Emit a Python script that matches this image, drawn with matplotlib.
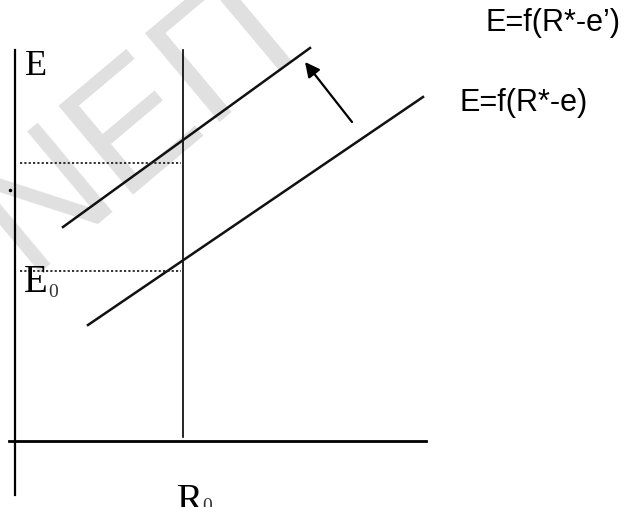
import matplotlib
matplotlib.use("Agg")
import matplotlib.pyplot as plt

# diagram positions in image pixels (x right, y down)
axis_y_x = [15, 15]
axis_y_y = [50, 495]
axis_x_x = [9, 426]
axis_x_y = [441, 441]
r0_x = [183, 183]
r0_y = [50, 437]

curve_new_x = [63, 310]      # E=f(R*-e')
curve_new_y = [227, 48]
curve_old_x = [88, 423]      # E=f(R*-e)
curve_old_y = [325, 97]

dot_upper_x = [20, 181]
dot_upper_y = [163, 163]
dot_e0_x = [20, 181]
dot_e0_y = [271, 271]

arrow_tail = (352, 122)
arrow_head = (305, 62)

label_new = "E=f(R*-e\u2019)"
label_old = "E=f(R*-e)"

fig = plt.figure(figsize=(6.27, 5.07), dpi=100)
ax = fig.add_axes([0, 0, 1, 1])
ax.set_xlim(0, 627)
ax.set_ylim(507, 0)
ax.axis("off")

# faint watermark
ax.text(135, 125, "\u039d\u0395\u03a0", fontsize=122, color="#e0e0e0",
        family="Liberation Sans", rotation=40, rotation_mode="anchor",
        ha="center", va="center", zorder=0)

ax.plot(axis_y_x, axis_y_y, color="black", lw=1.6)
ax.plot(axis_x_x, axis_x_y, color="black", lw=2.0)
ax.plot(r0_x, r0_y, color="black", lw=1.2)

ax.plot(curve_new_x, curve_new_y, color="#111111", lw=1.8)
ax.plot(curve_old_x, curve_old_y, color="#111111", lw=1.8)

ax.plot(dot_upper_x, dot_upper_y, color="#222222", lw=1.3, linestyle=(0, (1.2, 1.2)))
ax.plot(dot_e0_x, dot_e0_y, color="#222222", lw=1.3, linestyle=(0, (1.2, 1.2)))

ax.annotate("", xy=arrow_head, xytext=arrow_tail,
            arrowprops=dict(arrowstyle="-|>", color="black", lw=1.6,
                            mutation_scale=22, shrinkA=0, shrinkB=0))

ax.plot([10], [190], marker="o", markersize=1.5, color="black")

serif = "Liberation Serif"
ax.text(25, 75, "E", fontsize=26, family=serif, ha="left", va="baseline")
ax.text(24, 292, "E", fontsize=28, family=serif, ha="left", va="baseline")
ax.text(48, 297, "0", fontsize=14, family=serif, color="#333333", ha="left", va="baseline")
ax.text(177, 511, "R", fontsize=28, family=serif, ha="left", va="baseline")
ax.text(202, 511, "0", fontsize=14, family=serif, color="#333333", ha="left", va="baseline")

sans = "Liberation Sans"
ax.text(486, 23, label_new, fontsize=22, family=sans, ha="left", va="center")
ax.text(460, 103, label_old, fontsize=22, family=sans, ha="left", va="center")

fig.savefig("out.png", dpi=100)
